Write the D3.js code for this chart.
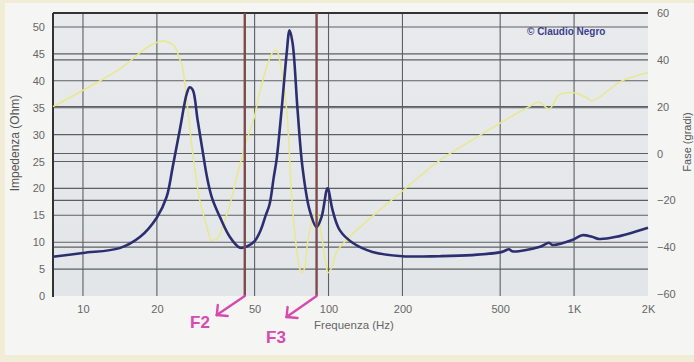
<!DOCTYPE html>
<html>
<head>
<meta charset="utf-8">
<script src="https://cdn.jsdelivr.net/npm/d3@7"></script>
<style>
  html, body { margin: 0; padding: 0; background: #f1efe4; }
  svg { display: block; font-family: Arial, "Liberation Sans", sans-serif; }
</style>
</head>
<body>
<svg id="chart" width="694" height="362"></svg>
<script>
// ---- data ----
const impFreq = [7.55, 10, 14.1, 17.1, 20, 21.9, 23.2, 24.8, 26.5, 27.2, 28.0, 29.3, 30.8, 32.0, 33.5, 36.1, 39.6, 43.4, 46.5, 50, 53,
  55.3, 57.5, 59.8, 61.5, 64.4, 67.5, 69.4, 71.4, 74.8, 78.3, 83.7, 89.4, 93.7, 99.1, 103.8, 110.9, 125.3, 151, 200, 283,
  384, 509, 544, 560, 721, 791, 815, 982, 1079, 1183, 1264, 1483, 2000];
const impOhm = [7.3, 8.0, 8.9, 11.0, 14.6, 18.4, 24.0, 30.9, 37.7, 38.8, 38.3, 32.7, 26.6, 22.1, 18.3, 14.7, 11.0, 9.0, 9.2, 10.2, 12.3,
  14.8, 17.0, 22.0, 25.5, 34.6, 45.0, 49.4, 47.0, 34.6, 24.0, 16.0, 12.8, 14.7, 20.0, 16.0, 12.3, 9.9, 8.2, 7.4, 7.4,
  7.6, 8.2, 8.7, 8.3, 9.1, 9.9, 9.5, 10.4, 11.3, 11.0, 10.6, 11.0, 12.7];

const phaseFreq = [7.55, 10, 14.1, 18.7, 21.3, 23.7, 24.6, 25.3, 26.5, 28.0, 29.9, 31.9, 33.4, 35.4, 37.1, 39.6, 42.3, 45.6, 50, 52.4,
  59.1, 61.5, 63.2, 67.5, 71.4, 76.3, 77.7, 79.9, 82.2, 86.1, 89.4, 91.9, 94.6, 98.2, 99.1, 102.8, 107.9, 126.5, 200, 283,
  374, 500, 656, 721, 791, 869, 990, 1119, 1183, 1567, 2000];
const phaseDeg = [20, 27, 36, 46, 48, 45.5, 41, 38, 22, 0, -20, -31, -37, -36, -31, -22, -10, 3, 16, 26,
  43, 44, 40, 19, -24, -49, -51, -49, -38, -28, -25, -30, -38, -49, -51, -49, -42, -34, -16, -3,
  5, 13, 20, 22, 19, 25, 26, 24, 22.5, 31, 34.5];

const xTickVals = [10, 20, 50, 100, 200, 500, 1000, 2000];
const xTickLabels = ["10", "20", "50", "100", "200", "500", "1K", "2K"];
const impTicks = [0, 5, 10, 15, 20, 25, 30, 35, 40, 45, 50];
const phaseTicks = [-60, -40, -20, 0, 20, 40, 60];
const markerFreq = [45.6, 89.4];
const markerLabels = ["F2", "F3"];

// ---- layout ----
const svg = d3.select("#chart");
const W = 694, H = 362;
const pL = 53, pR = 648, pT = 13, pB = 296;

const x = d3.scaleLog().domain([7.55, 2000]).range([pL, pR]);
const yImp = d3.scaleLinear().domain([0, 52.6]).range([pB, pT]);
const yPh = d3.scaleLinear().domain([-60, 60]).range([pB - 2, pT]);

// page background + scan border
svg.append("rect").attr("x", 0).attr("y", 0).attr("width", W).attr("height", H).attr("fill", "#f0ecd6");
svg.append("rect").attr("x", 5).attr("y", 3).attr("width", W - 5).attr("height", H - 10).attr("fill", "#f5f5f4");

// plot background
const grad = svg.append("defs").append("linearGradient").attr("id", "bg").attr("x1", 0).attr("y1", 0).attr("x2", 0).attr("y2", 1);
grad.append("stop").attr("offset", "0%").attr("stop-color", "#e8eaec");
grad.append("stop").attr("offset", "100%").attr("stop-color", "#e3e6e9");
svg.append("rect").attr("x", pL).attr("y", pT).attr("width", pR - pL).attr("height", pB - pT).attr("fill", "url(#bg)");

// grid
const grid = svg.append("g").attr("stroke", "#5c5f63").attr("stroke-width", 1.1);
grid.selectAll(".hi").data(impTicks.filter(d => d > 0)).join("line").attr("class", "hi")
  .attr("x1", pL).attr("x2", pR).attr("y1", d => yImp(d)).attr("y2", d => yImp(d));
grid.selectAll(".hp").data(phaseTicks.filter(d => d > -60 && d < 60)).join("line").attr("class", "hp")
  .attr("x1", pL).attr("x2", pR).attr("y1", d => yPh(d)).attr("y2", d => yPh(d));
grid.selectAll(".v").data(xTickVals.filter(d => d < 2000)).join("line").attr("class", "v")
  .attr("x1", d => x(d)).attr("x2", d => x(d)).attr("y1", pT).attr("y2", pB);

// frame
svg.append("line").attr("x1", pL).attr("x2", pR).attr("y1", pT).attr("y2", pT).attr("stroke", "#333").attr("stroke-width", 2);
svg.append("line").attr("x1", pL).attr("x2", pL).attr("y1", pT).attr("y2", pB + 1).attr("stroke", "#333").attr("stroke-width", 2);

// axes text
const tickColor = "#666";
const leftAxis = d3.axisLeft(yImp).tickValues(impTicks).tickSize(0).tickPadding(8);
svg.append("g").attr("transform", `translate(${pL},0)`).call(leftAxis)
  .call(g => g.select(".domain").remove())
  .call(g => g.selectAll("text").attr("fill", tickColor).attr("font-size", 11));

const rightAxis = d3.axisRight(yPh).tickValues(phaseTicks).tickSize(0).tickPadding(9);
svg.append("g").attr("transform", `translate(${pR},0)`).call(rightAxis)
  .call(g => g.select(".domain").remove())
  .call(g => g.selectAll("text").attr("fill", tickColor).attr("font-size", 11));

const bottomAxis = d3.axisBottom(x).tickValues(xTickVals).tickFormat((d, i) => xTickLabels[i]).tickSize(0).tickPadding(9);
svg.append("g").attr("transform", `translate(0,${pB})`).call(bottomAxis)
  .call(g => g.select(".domain").remove())
  .call(g => g.selectAll("text").attr("fill", tickColor).attr("font-size", 11));

svg.append("text").attr("transform", `translate(19,143) rotate(-90)`)
  .attr("text-anchor", "middle").attr("font-size", 12).attr("fill", "#555").text("Impedenza (Ohm)");
svg.append("text").attr("transform", `translate(691,142) rotate(-90)`)
  .attr("text-anchor", "middle").attr("font-size", 11).attr("fill", "#555").text("Fase (gradi)");
svg.append("text").attr("x", 354).attr("y", 329).attr("text-anchor", "middle")
  .attr("font-size", 11.5).attr("fill", "#666").text("Frequenza (Hz)");

svg.append("text").attr("x", 527).attr("y", 35).attr("font-size", 10).attr("font-weight", "bold")
  .attr("fill", "#3c3f8c").text("© Claudio Negro");

// phase curve
const phasePts = phaseFreq.map((f, i) => [f, phaseDeg[i]]);
svg.append("path").datum(phasePts)
  .attr("fill", "none").attr("stroke", "#e8e88c").attr("stroke-width", 1.5).attr("stroke-linejoin", "round")
  .attr("d", d3.line().x(d => x(d[0])).y(d => yPh(d[1])).curve(d3.curveCatmullRom.alpha(0.5)));

// impedance curve
const impPts = impFreq.map((f, i) => [f, impOhm[i]]);
svg.append("path").datum(impPts)
  .attr("fill", "none").attr("stroke", "#2c2e70").attr("stroke-width", 2.6).attr("stroke-linejoin", "round")
  .attr("d", d3.line().x(d => x(d[0])).y(d => yImp(d[1])).curve(d3.curveCatmullRom.alpha(0.5)));

// marker lines
svg.selectAll(".mk").data(markerFreq).join("line").attr("class", "mk")
  .attr("x1", d => x(d)).attr("x2", d => x(d)).attr("y1", pT).attr("y2", pB)
  .attr("stroke", "#7d4b4b").attr("stroke-width", 2.4);

// magenta arrows + labels
const arrowColor = "#d84aae";
const arrows = [
  { f: markerFreq[0], dx: -28, dy: 19, lx: 190, ly: 328, label: markerLabels[0] },
  { f: markerFreq[1], dx: -30, dy: 21, lx: 266, ly: 343, label: markerLabels[1] }
];
arrows.forEach(a => {
  const x0 = x(a.f), y0 = pB;
  const x1 = x0 + a.dx, y1 = y0 + a.dy;
  const g = svg.append("g").attr("stroke", arrowColor).attr("stroke-width", 2.4).attr("fill", "none").attr("stroke-linecap", "round");
  g.append("line").attr("x1", x0).attr("y1", y0).attr("x2", x1).attr("y2", y1);
  g.append("line").attr("x1", x1).attr("y1", y1).attr("x2", x1 + 1).attr("y2", y1 - 10);
  g.append("line").attr("x1", x1).attr("y1", y1).attr("x2", x1 + 11).attr("y2", y1 + 1);
  svg.append("text").attr("x", a.lx).attr("y", a.ly).attr("font-size", 17).attr("font-weight", "bold")
    .attr("fill", arrowColor).text(a.label);
});
</script>
</body>
</html>
